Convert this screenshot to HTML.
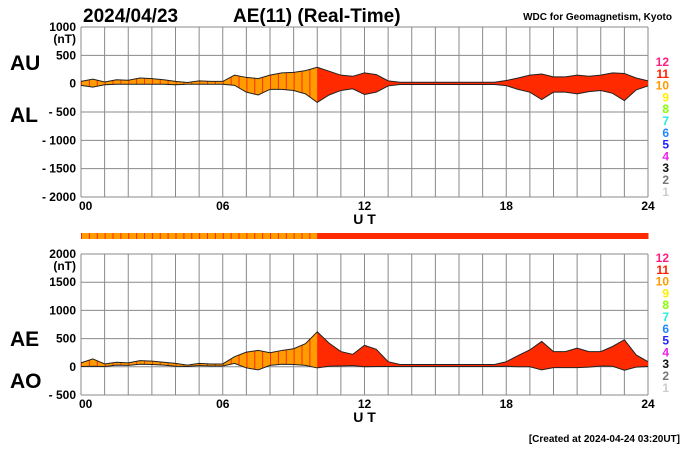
<!DOCTYPE html>
<html><head><meta charset="utf-8"><style>
body{margin:0;background:#fff}
svg text{font-family:"Liberation Sans",Arial,sans-serif;font-weight:bold}
</style></head><body>
<svg id="c" width="700" height="450" viewBox="0 0 700 450" xmlns="http://www.w3.org/2000/svg">
<text x="83" y="22" font-size="19">2024/04/23</text>
<text x="233" y="22" font-size="19">AE(11) (Real-Time)</text>
<text x="672" y="20" font-size="10" text-anchor="end">WDC for Geomagnetism, Kyoto</text>
<text x="10" y="70" font-size="21">AU</text>
<text x="10" y="122" font-size="21">AL</text>
<text x="10" y="346" font-size="21">AE</text>
<text x="10" y="388" font-size="21">AO</text>
<text x="680" y="442" font-size="10" text-anchor="end">[Created at 2024-04-24 03:20UT]</text>
<g id="g"></g>
</svg>
<script>
const hours=[0,0.5,1,1.5,2,2.5,3,3.5,4,4.5,5,5.5,6,6.5,7,7.5,8,8.5,9,9.5,10,10.5,11,11.5,12,12.5,13,13.5,14,14.5,15,15.5,16,16.5,17,17.5,18,18.5,19,19.5,20,20.5,21,21.5,22,22.5,23,23.5,24];
const auValues=[40,80,30,70,60,100,90,70,40,20,50,40,40,150,110,90,150,190,200,230,290,220,150,130,190,160,50,25,25,25,25,25,25,25,25,25,55,100,150,170,120,120,150,130,150,190,180,100,50];
const alValues=[-30,-60,-20,-10,-10,-10,-10,-10,-20,-10,-10,-10,-10,-30,-150,-200,-100,-100,-120,-180,-330,-200,-120,-90,-190,-150,-40,-15,-15,-15,-15,-15,-15,-15,-15,-15,-35,-100,-150,-280,-150,-150,-180,-140,-120,-170,-300,-110,-40];
const stationCount=[10,10,10,10,10,10,10,10,10,10,10,10,10,10,10,10,10,10,10,10,10,10,10,10,10,10,10,10,10,10,11,11,11,11,11,11,11,11,11,11,11,11,11,11,11,11,11,11,11,11,11,11,11,11,11,11,11,11,11,11,11,11,11,11,11,11,11,11,11,11,11,11];
const topTicks=[1000,500,0,-500,-1000,-1500,-2000];
const botTicks=[2000,1500,1000,500,0,-500];
const xTicks=[0,6,12,18,24];
const xTickLabels=["00","06","12","18","24"];
const legendNums=["12","11","10","9","8","7","6","5","4","3","2","1"];
const legendCols=["#ff1f7f","#ff2000","#ff9900","#ffee00","#88ff00","#22eedd","#2288ff","#2222ff","#ee22ee","#111111","#777777","#cccccc"];

const NS="http://www.w3.org/2000/svg",G=document.getElementById('g');
function mk(t,a,p){const e=document.createElementNS(NS,t);for(const k in a)e.setAttribute(k,a[k]);(p||G).appendChild(e);return e;}
const X0=81,X1=648;
const xs=h=>X0+(X1-X0)*h/24;
const colOf=n=>n>=11?"#ff2a00":"#ff9d00";

function panel(id,top,bot,ymax,ymin,ticks,upper,lower,legTop){
  const ys=v=>top+(bot-top)*(ymax-v)/(ymax-ymin);
  for(const t of ticks){
    const l=mk('line',{x1:X0,x2:X1,y1:ys(t),y2:ys(t),stroke:'#8a8a8a','stroke-width':1});
    
    
    const tx=mk('text',{x:76,y:ys(t)+4,'font-size':12,'text-anchor':'end'});
    tx.textContent=(t<0?'- '+(-t):String(t));
    
    
  }
  const nt=mk('text',{x:76,y:ys(ymax)+16,'font-size':12,'text-anchor':'end'});nt.textContent='(nT)';
  
  
  for(let h=0;h<=24;h++){
    const l=mk('line',{x1:xs(h),x2:xs(h),y1:top,y2:bot,stroke:'#8a8a8a','stroke-width':1});
    
    
  }
  xTicks.forEach((h,i)=>{
    const t=mk('text',{x:xs(h)+(i==0?-2:0),y:bot+13,'font-size':12,'text-anchor':i==0?'start':'middle'});t.textContent=xTickLabels[i];
    
    
  });
  const ut=mk('text',{x:xs(12),y:bot+27,'font-size':14,'text-anchor':'middle'});ut.textContent='U T';
  
  
  let pu=hours.map((h,i)=>xs(h)+','+ys(upper[i])),pl=hours.map((h,i)=>xs(h)+','+ys(lower[i])).reverse();
  const cp=mk('clipPath',{id:id+'clip'});mk('polygon',{points:pu.concat(pl).join(' ')},cp);
  const fg=mk('g',{'clip-path':'url(#'+id+'clip)'});
  
  
  stationCount.forEach((n,i)=>{
    const w=(X1-X0)/stationCount.length;
    mk('rect',{x:X0+i*w,y:top,width:w+0.5,height:bot-top,fill:colOf(n)},fg);
    mk('rect',{x:X0+i*w,y:top,width:1,height:bot-top,fill:'#ff2a00'},fg);
  });
  const a=mk('polyline',{points:pu.join(' '),fill:'none',stroke:'#222','stroke-width':1});
  
  
  const b=mk('polyline',{points:pl.join(' '),fill:'none',stroke:'#222','stroke-width':1});
  
  
  legendNums.forEach((s,i)=>{
    const t=mk('text',{x:669,y:legTop+i*11.8,'font-size':12,'text-anchor':'end',fill:legendCols[i]});t.textContent=s;
    
    
  });
}
panel('top-panel',27,197,1000,-2000,topTicks,auValues,alValues,66);
const aeValues=auValues.map((u,i)=>u-alValues[i]);
const aoValues=auValues.map((u,i)=>(u+alValues[i])/2);
panel('bottom-panel',254,395,2000,-500,botTicks,aeValues,aoValues,262);
const w=(X1-X0)/stationCount.length;
stationCount.forEach((n,i)=>{
  const r=mk('rect',{x:X0+i*w,y:233,width:w+0.5,height:6,fill:colOf(n)});
  
  
  mk('rect',{x:X0+i*w,y:233,width:1,height:6,fill:'#ff2a00'});
});
</script>
</body></html>
